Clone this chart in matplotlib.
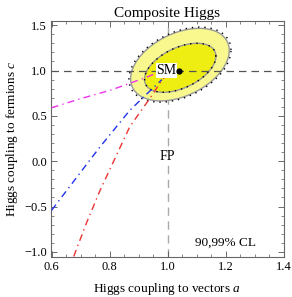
import numpy as np
import matplotlib
matplotlib.use("Agg")
import matplotlib.pyplot as plt
from matplotlib.ticker import MultipleLocator, FuncFormatter

plt.rcParams['font.family'] = ['Liberation Serif', 'DejaVu Serif']
plt.rcParams['mathtext.fontset'] = 'custom'
plt.rcParams['mathtext.rm'] = 'Liberation Serif'
plt.rcParams['mathtext.it'] = 'Liberation Serif:italic'

# --- data ---
magenta_a = [0.60, 0.70, 0.80, 0.87, 0.93, 0.96]
magenta_c = [0.59, 0.69, 0.78, 0.86, 0.93, 0.97]
blue_a = [0.60, 0.70, 0.767, 0.869, 0.937, 0.98]
blue_c = [-0.54, -0.12, 0.16, 0.56, 0.77, 0.90]
red_a = [0.676, 0.72, 0.767, 0.869, 0.94, 0.975, 0.99]
red_c = [-1.05, -0.68, -0.32, 0.38, 0.70, 0.87, 0.93]

# ellipse regions: center a, center c, half-width a, half-height c, phase
region_labels = ["99% CL", "90% CL"]
ell_ca = [1.042, 1.043]
ell_cc = [1.065, 1.03]
ell_wa = [0.170, 0.123]
ell_hc = [0.400, 0.270]
ell_delta_deg = [67, 62]

sm_point = (1.0, 1.0)
best_fit = (1.04, 1.0)
fp_point = (1.0, 0.05)

fig = plt.figure(figsize=(2.92, 2.97), dpi=100)
ax = fig.add_axes([0.175, 0.135, 0.797, 0.794])

t = np.linspace(0, 2*np.pi, 400)
fills = ['#f8f88e', '#eeee12']
for i in range(2):
    d = np.deg2rad(ell_delta_deg[i])
    x = ell_ca[i] + ell_wa[i]*np.cos(t)
    y = ell_cc[i] + ell_hc[i]*np.cos(t - d)
    ax.fill(x, y, facecolor=fills[i], edgecolor='#999999', lw=1.0, zorder=2)
    s = 1.035 if i == 0 else 1.0
    xd = ell_ca[i] + s*ell_wa[i]*np.cos(t)
    yd = ell_cc[i] + s*ell_hc[i]*np.cos(t - d)
    ax.plot(xd, yd, color='black', lw=1.0, ls=(0, (1, 3.5)), zorder=3)

ax.axhline(1.0, color='#555555', lw=0.9, ls=(0, (6, 4)), zorder=4)
ax.axvline(1.0, color='#aaaaaa', lw=1.0, ls=(0, (6, 4)), zorder=1)

ls_dd = (0, (5, 3, 1, 3))
ax.plot(magenta_a, magenta_c, color='#ee33ee', lw=1.0, ls=ls_dd, zorder=5)
ax.plot(blue_a, blue_c, color='#2233ee', lw=1.0, ls=ls_dd, zorder=5)
ax.plot(red_a, red_c, color='#ee3333', lw=1.0, ls=ls_dd, zorder=5)

ax.plot([best_fit[0]], [best_fit[1]], 'o', color='black', ms=3.5, zorder=7)
ax.text(sm_point[0] - 0.005, sm_point[1], 'SM', ha='center', va='center', fontsize=10,
        bbox=dict(facecolor='white', edgecolor='none', pad=0.5), zorder=6)
ax.text(fp_point[0], fp_point[1], 'FP', ha='center', va='center', fontsize=10,
        bbox=dict(facecolor='white', edgecolor='none', pad=1.5), zorder=6)
ax.text(1.2, -0.9, '90,99% CL', ha='center', va='center', fontsize=9.5)

ax.set_xlim(0.598, 1.4)
ax.set_ylim(-1.055, 1.545)
ax.xaxis.set_major_locator(MultipleLocator(0.2))
ax.xaxis.set_minor_locator(MultipleLocator(0.05))
ax.yaxis.set_major_locator(MultipleLocator(0.5))
ax.yaxis.set_minor_locator(MultipleLocator(0.1))
ax.tick_params(which='both', direction='in', top=True, right=True, labelsize=9,
               color='#555555')
ax.tick_params(which='major', length=4, width=0.6, pad=3)
ax.tick_params(which='minor', length=2, width=0.5)
ax.yaxis.set_major_formatter(FuncFormatter(
    lambda v, p: f'{v:.1f}'.replace('-', '\u2212')))
ax.xaxis.set_major_formatter(FuncFormatter(lambda v, p: f'{v:.1f}'))
for sp in ax.spines.values():
    sp.set_color('#666666')
    sp.set_linewidth(0.8)

ax.set_xlabel('Higgs coupling to vectors $a$', fontsize=9.5, labelpad=6)
ax.set_ylabel('Higgs coupling to fermions $c$', fontsize=9.5, labelpad=3)
ax.set_title('Composite Higgs', fontsize=11, pad=3)

fig.savefig('out.png', dpi=100)
